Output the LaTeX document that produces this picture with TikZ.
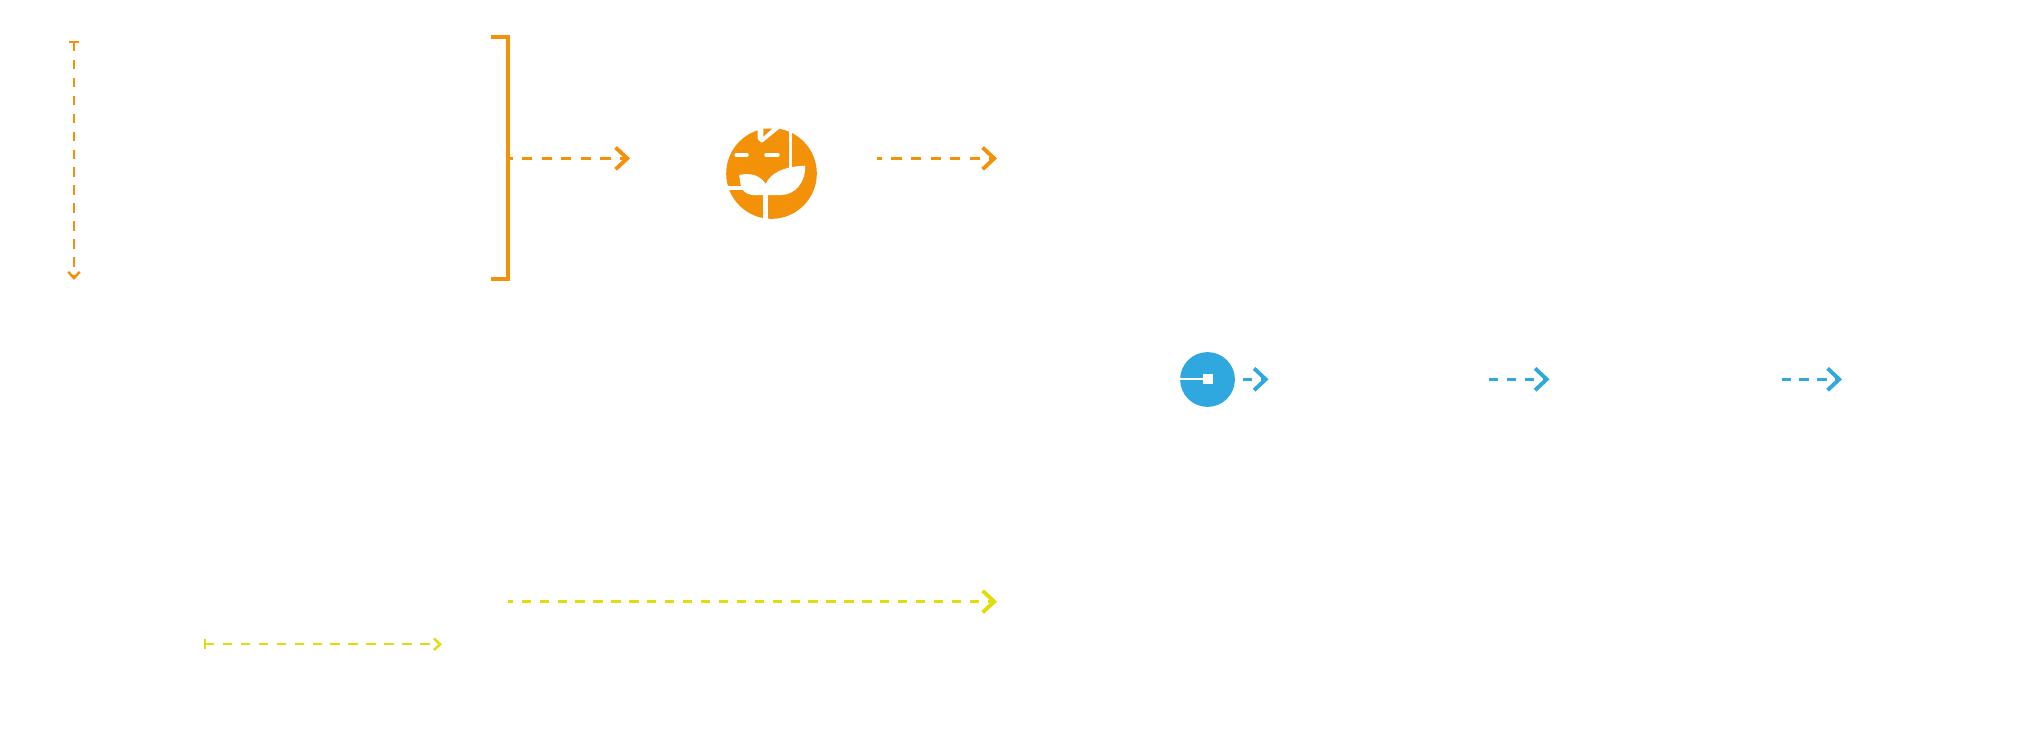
\documentclass[tikz,border=0pt]{standalone}
\usetikzlibrary{arrows.meta}
\definecolor{flowOrange}{HTML}{F39208}
\definecolor{flowBlue}{HTML}{2FA8E0}
\definecolor{flowYellow}{HTML}{E2DC0A}
\tikzset{
  bigflow/.style={line width=1.9pt,dash pattern=on 5.3pt off 4.9pt,-{Straight Barb[length=6.6pt,width=12.4pt,line width=2.2pt]}},
  smallflow/.style={line width=1.15pt,dash pattern=on 5.4pt off 4.8pt,-{Straight Barb[length=3.6pt,width=6.5pt,line width=1.4pt]}},
  iconline/.style={white,line width=2pt,line cap=round},
}
\begin{document}
\begin{tikzpicture}[x=0.02cm,y=-0.02cm]
  \useasboundingbox (0,0) rectangle (2034,750);
  % orange part
  \coordinate (bracketTop) at (491,37);
  \coordinate (bracketBot) at (491,279);
  \draw[flowOrange,line width=1.9pt] (bracketTop) -- (508,37) -- (508,279) -- (bracketBot);
  \coordinate (bracketOut) at (508,158.4);
  \coordinate (iconIn) at (630,158.4);
  \coordinate (iconOut) at (877,158.4);
  \coordinate (orangeEnd) at (997,158.4);
  \draw[bigflow,flowOrange,dash pattern=on 5.8pt off 5.35pt,dash phase=3.2pt] (bracketOut) -- (iconIn);
  \draw[bigflow,flowOrange,dash pattern=on 5.8pt off 5.35pt,dash phase=3pt] (iconOut) -- (orangeEnd);
  \coordinate (sideTop) at (74,42);
  \coordinate (sideBot) at (74,280);
  \draw[smallflow,flowOrange] (sideTop) -- (sideBot);
  \draw[flowOrange,line width=1.15pt] (69,42) -- (79,42);
  % plant icon
  \node[circle,fill=flowOrange,minimum size=51.6pt,inner sep=0pt] (plantIcon) at (771.5,173.5) {};
  \fill[white] (757.5,126) -- (757.5,139) -- (761,142.5) -- (763,142) -- (779,129) -- (779,126) -- cycle;
  \fill[flowOrange] (763.3,128.5) -- (772.3,128.5) -- (763.3,136.7) -- cycle;
  \draw[iconline,line cap=butt,line width=1.6pt] (790.7,131) -- (790.7,168);
  \draw[iconline] (736.2,155) -- (747,155);
  \draw[iconline] (766,155) -- (778,155);
  \draw[iconline,line cap=butt] (727,188) -- (746,188);
  \draw[iconline,line cap=butt,line width=2.4pt] (765.5,194) -- (765.5,220);
  \fill[white] (739.3,175) .. controls (750,172.5) and (760,175) .. (765.7,184)
    .. controls (770,174) and (782,166.5) .. (805,165.7)
    .. controls (806,182) and (795,195) .. (781,195)
    -- (752,195) .. controls (745,194) and (742,190) .. (741,186)
    .. controls (740,182) and (739.5,178) .. (739.3,175) -- cycle;
  % blue part
  \node[circle,fill=flowBlue,minimum size=31.2pt,inner sep=0pt] (coreDot) at (1207.5,379.5) {};
  \node[rectangle,fill=white,minimum size=5.6pt,inner sep=0pt] (coreSquare) at (1208,379) {};
  \coordinate (coreEdge) at (1180,379);
  \draw[white,line width=0.8pt] (coreEdge) -- (coreSquare);
  \foreach \a/\b in {1243/1268.5,1489/1549.5,1781.5/1842} {
    \coordinate (blueStart) at (\a,379.3);
    \coordinate (blueEnd) at (\b,379.3);
    \draw[bigflow,flowBlue] (blueStart) -- (blueEnd);
  }
  % yellow part
  \coordinate (longStart) at (508,601.6);
  \coordinate (longEnd) at (997,601.6);
  \draw[bigflow,flowYellow,dash phase=2.4pt] (longStart) -- (longEnd);
  \coordinate (shortStart) at (205,644.3);
  \coordinate (shortEnd) at (442,644.3);
  \draw[smallflow,flowYellow] (shortStart) -- (shortEnd);
  \draw[flowYellow,line width=1.15pt] (205,639) -- (205,649);
\end{tikzpicture}
\end{document}
